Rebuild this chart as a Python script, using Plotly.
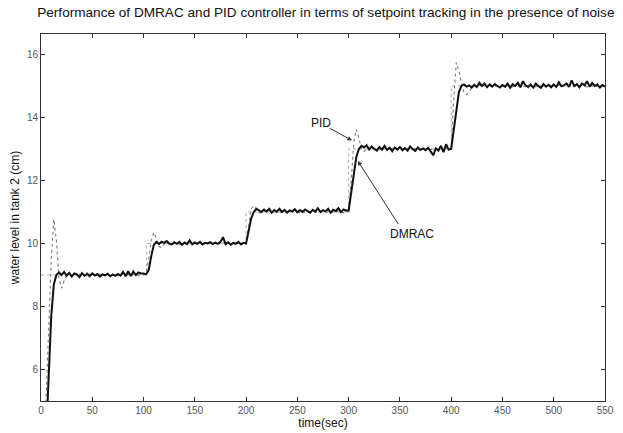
import plotly.graph_objects as go

# time grid (s) for both controller responses
time_s = [i * 2.5 for i in range(221)]

dmrac = [
    0, 2.0, 3.5, 5.8, 7.7, 8.7, 9.0, 9.08, 9.0, 9.1,
    8.98, 9.07, 8.95, 9.05, 9.02, 8.93, 9.06, 8.97, 9.04, 8.96,
    9.05, 8.98, 9.03, 8.95, 9.02, 8.99, 9.04, 8.96, 9.01, 8.97,
    9.03, 8.98, 9.1, 8.96, 9.12, 8.97, 9.11, 9.0, 9.08, 9.05,
    9.05, 9.02, 9.15, 9.6, 9.95, 10.05, 9.98, 10.06, 10.02, 10.08,
    10.0, 9.97, 10.04, 9.99, 10.05, 9.96, 10.03, 9.98, 10.1, 9.97,
    10.03, 9.99, 10.05, 9.97, 10.02, 10.0, 10.04, 9.98, 10.03, 9.99,
    10.05, 10.2, 9.98, 10.04, 9.96, 10.02, 9.99, 10.05, 9.97, 10.02,
    10.0, 10.4, 10.8, 11.0, 11.1, 11.05, 11.0, 11.08, 11.02, 11.1,
    10.98, 11.06, 11.01, 11.1, 11.0, 11.07, 10.98, 11.05, 11.02, 11.09,
    10.99, 11.06, 11.0, 11.08, 11.03, 10.98, 11.07, 11.01, 11.12, 11.0,
    11.06, 11.02, 11.1, 10.98, 11.07, 11.03, 11.12, 11.0, 11.08, 11.05,
    11.05, 11.6, 12.3, 12.75, 13.0, 13.1, 13.05, 13.12, 12.98, 13.08,
    13.0, 12.95, 13.06, 12.98, 13.1, 12.97, 13.04, 12.93, 13.05, 12.98,
    13.06, 12.96, 13.03, 12.95, 13.08, 12.99, 12.94, 13.05, 12.97, 13.02,
    12.96, 13.04, 12.92, 12.8, 13.02, 12.95, 13.1, 12.9, 13.15, 12.98,
    13.0, 13.6, 14.3, 14.8, 15.0, 15.05, 14.98, 15.02, 14.95, 15.04,
    14.97, 15.1, 15.0, 15.08, 14.96, 15.05, 14.98, 15.06, 15.0, 14.95,
    15.03, 14.97, 15.08, 14.94, 15.06, 15.0, 15.1, 14.96, 15.15, 15.02,
    14.97, 15.05, 14.95, 15.08, 15.0, 14.94, 15.06, 14.98, 15.04, 14.96,
    15.05, 14.97, 15.12, 14.99, 15.03, 15.08, 14.97, 15.18, 15.0, 15.06,
    14.96, 15.08, 15.02, 15.15, 14.98, 15.1, 15.0, 15.05, 14.95, 15.03,
    14.98,
]

pid = [
    0, 3.2, 5.1, 7.2, 9.5, 10.77, 10.1, 8.9, 8.58, 8.8,
    9.02, 9.04, 8.98, 9.02, 8.97, 9.03, 8.99, 9.01, 8.96, 9.03,
    8.99, 9.02, 8.97, 9.03, 9.0, 8.98, 9.02, 8.99, 9.03, 8.98,
    9.01, 8.97, 9.04, 8.99, 9.02, 8.98, 9.03, 9.0, 8.98, 9.02,
    9.0, 9.05, 9.5, 10.1, 10.35, 10.15, 9.9, 9.87, 9.97, 10.03,
    9.98, 10.02, 9.99, 10.03, 9.97, 10.01, 10.0, 9.98, 10.03, 10.0,
    9.98, 10.02, 10.0, 9.97, 10.03, 9.99, 10.01, 9.98, 10.02, 10.0,
    9.99, 10.03, 9.98, 10.01, 10.0, 9.97, 10.02, 9.99, 10.01, 9.98,
    10.0, 10.6, 11.1, 11.2, 11.1, 10.98, 10.97, 11.02, 11.0, 11.03,
    10.98, 11.02, 11.0, 10.97, 11.03, 11.0, 10.98, 11.02, 10.99, 11.01,
    11.0, 10.98, 11.03, 10.99, 11.01, 10.97, 11.02, 11.0, 10.98, 11.03,
    10.99, 11.01, 11.0, 10.97, 11.02, 10.99, 11.03, 11.0, 10.98, 11.01,
    11.0, 12.0, 13.2, 13.62, 13.35, 12.98, 12.92, 13.0, 13.03, 12.98,
    13.02, 12.99, 13.01, 12.97, 13.03, 13.0, 12.98, 13.02, 12.99, 13.01,
    13.0, 12.97, 13.02, 12.99, 13.01, 12.98, 13.03, 13.0, 12.97, 13.02,
    12.99, 13.01, 13.0, 12.97, 13.02, 12.99, 13.01, 12.98, 13.02, 13.0,
    13.0, 14.6, 15.75, 15.5, 15.05, 14.8, 14.72, 14.8, 14.95, 15.0,
    14.98, 15.02, 14.99, 15.01, 14.97, 15.03, 15.0, 14.98, 15.02, 14.99,
    15.01, 14.98, 15.03, 15.0, 14.97, 15.02, 14.99, 15.01, 15.0, 14.98,
    15.02, 14.99, 15.01, 14.97, 15.03, 15.0, 14.98, 15.02, 14.99, 15.01,
    15.0, 14.98, 15.03, 14.99, 15.01, 14.97, 15.02, 15.0, 14.98, 15.02,
    14.99, 15.01, 15.0, 14.97, 15.03, 14.99, 15.01, 14.98, 15.02, 15.0,
    15.0,
]

setpoint_t = [0, 103, 103, 200, 200, 300, 300, 400, 400, 550]
setpoint_v = [9, 9, 10, 10, 11, 11, 13, 13, 15, 15]

x_ticks = [0, 50, 100, 150, 200, 250, 300, 350, 400, 450, 500, 550]
y_ticks = [6, 8, 10, 12, 14, 16]

FONT = "Liberation Sans, Arial, sans-serif"

fig = go.Figure()
fig.add_trace(go.Scatter(x=setpoint_t, y=setpoint_v, mode="lines",
                         line=dict(color="#a8a8a8", width=1, dash="dot"),
                         showlegend=False, hoverinfo="skip"))
fig.add_trace(go.Scatter(x=time_s, y=pid, mode="lines", name="PID",
                         line=dict(color="#7a7a7a", width=1.1, dash="dot"),
                         showlegend=False))
fig.add_trace(go.Scatter(x=time_s, y=dmrac, mode="lines", name="DMRAC",
                         line=dict(color="#111111", width=2),
                         showlegend=False))

fig.add_annotation(x=272.6, y=13.84, xref="x", yref="y", text="PID",
                   showarrow=False, font=dict(family=FONT, size=12, color="#111"))
fig.add_annotation(x=303.3, y=13.27, ax=280.5, ay=13.68, xref="x", yref="y",
                   axref="x", ayref="y", text="", showarrow=True,
                   arrowhead=2, arrowsize=0.9, arrowwidth=1, arrowcolor="#333")
fig.add_annotation(x=361.5, y=10.3, xref="x", yref="y", text="DMRAC",
                   showarrow=False, font=dict(family=FONT, size=12, color="#111"))
fig.add_annotation(x=309, y=12.62, ax=349.3, ay=10.57, xref="x", yref="y",
                   axref="x", ayref="y", text="", showarrow=True,
                   arrowhead=2, arrowsize=0.9, arrowwidth=1, arrowcolor="#333")

fig.update_layout(
    width=623, height=433,
    margin=dict(l=41, r=9, t=34, b=30),
    paper_bgcolor="white", plot_bgcolor="white",
    font=dict(family=FONT, color="#222"),
    title=dict(text="Performance of DMRAC and PID controller in terms of setpoint tracking in the presence of noise",
               x=0.523, xanchor="center", y=0.972, yanchor="middle",
               font=dict(family=FONT, size=13.6, color="#111")),
)
fig.update_xaxes(range=[0, 550], tickvals=x_ticks, ticks="inside", ticklen=4,
                 tickcolor="#333", showline=True, linecolor="#333", linewidth=1,
                 mirror="ticks", showgrid=False, zeroline=False,
                 tickfont=dict(family=FONT, size=10, color="#555"),
                 title=dict(text="time(sec)", standoff=0,
                            font=dict(family=FONT, size=12, color="#111")))
fig.update_yaxes(range=[5, 16.65], tickvals=y_ticks, ticks="inside", ticklen=4,
                 tickcolor="#333", showline=True, linecolor="#333", linewidth=1,
                 mirror="ticks", showgrid=False, zeroline=False,
                 tickfont=dict(family=FONT, size=10, color="#555"),
                 title=dict(text="water level in tank 2 (cm)", standoff=4,
                            font=dict(family=FONT, size=12, color="#111")))

fig.write_html("out.html")
